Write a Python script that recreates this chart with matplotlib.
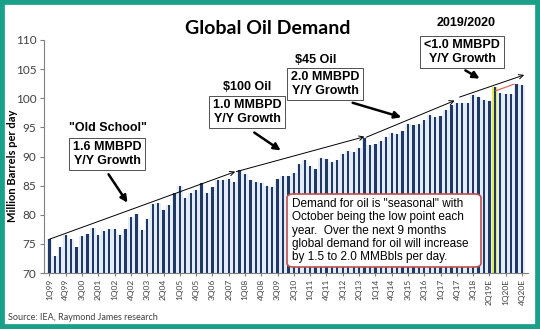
import matplotlib
matplotlib.use("Agg")
import matplotlib.pyplot as plt
from matplotlib.patches import Rectangle, FancyBboxPatch, FancyArrowPatch
import numpy as np

# quarterly global oil demand, million barrels per day (1Q99 .. 4Q20E)
demand = [
    75.8, 73.0, 74.4, 76.5,   # 1999
    75.9, 74.4, 76.3, 76.7,   # 2000
    77.8, 76.6, 77.2, 77.5,   # 2001
    77.5, 76.6, 77.6, 79.6,   # 2002
    80.2, 77.3, 79.3, 81.9,   # 2003
    82.0, 80.8, 81.7, 83.8,   # 2004
    84.9, 82.8, 83.7, 84.2,   # 2005
    85.5, 83.8, 84.8, 85.9,   # 2006
    85.9, 86.2, 85.6, 87.6,   # 2007
    87.0, 86.0, 85.6, 85.5,   # 2008
    84.9, 84.8, 86.1, 86.6,   # 2009
    86.6, 87.2, 88.7, 89.4,   # 2010
    88.3, 87.8, 89.8, 89.6,   # 2011
    89.1, 89.4, 90.5, 90.9,   # 2012
    90.8, 91.4, 93.1, 92.0,   # 2013
    92.1, 92.6, 93.4, 94.0,   # 2014
    93.8, 94.3, 95.6, 95.4,   # 2015
    95.6, 96.2, 97.2, 96.8,   # 2016
    97.0, 98.0, 98.8, 99.1,   # 2017
    99.2, 99.2, 100.6, 100.2, # 2018
    99.7, 99.6, 102.0, 100.9, # 2019
    100.8, 100.8, 102.4, 102.3,  # 2020
]
years = list(range(1999, 2021))
quarters = [f"{q}Q{y % 100:02d}" + ("E" if (y, q) >= (2019, 2) else "")
            for y in years for q in range(1, 5)]
tick_labels = ["1Q99", "4Q99", "3Q00", "2Q01", "1Q02", "4Q02", "3Q03", "2Q04",
               "1Q05", "4Q05", "3Q06", "2Q07", "1Q08", "4Q08", "3Q09", "2Q10",
               "1Q11", "4Q11", "3Q12", "2Q13", "1Q14", "4Q14", "3Q15", "2Q16",
               "1Q17", "4Q17", "3Q18", "2Q19E", "1Q20E", "4Q20E"]
highlight = "3Q19E"

# trend arrows: (quarter index, value) start -> end
trends = [
    ((0, 75.8), (34.2, 87.4)),
    ((34.4, 87.4), (58.0, 93.4)),
    ((58.3, 93.3), (74.6, 99.6)),
    ((75.5, 100.2), (87.4, 104.0)),
]

NAVY = "#1f3864"
PALE = "#e3ecf6"
W, H = 540, 329

fig = plt.figure(figsize=(W / 100, H / 100), dpi=100)
ax = fig.add_axes([43.5 / W, 1 - 273 / H, (528 - 43.5) / W, (273 - 40) / H])


def fpos(x, y):
    # pixel position from the top-left corner -> figure fraction
    return (x / W, 1 - y / H)


x = np.arange(len(demand))
hi = quarters.index(highlight)
ax.bar(x, demand, width=1.0, color=PALE, zorder=1)
ax.bar([hi], [demand[hi]], width=0.95, color="#e2ec48", zorder=2)
ax.bar(x, demand, width=0.42, color=NAVY, zorder=3)

ax.set_ylim(70, 110)
ax.set_yticks(range(70, 111, 5))
ax.set_xlim(-1.1, len(demand) + 0.1)
ax.set_xticks([quarters.index(t) for t in tick_labels])
ax.set_xticklabels(tick_labels, rotation=90, fontsize=6, family="Lato", color="#404040")
for lab in ax.get_yticklabels():
    lab.set_family("Lato")
ax.tick_params(axis="y", labelsize=8.5, length=3, color="#808080", labelcolor="#404040", pad=2)
ax.tick_params(axis="x", length=2, color="#808080", pad=2)
for s in ["top", "right"]:
    ax.spines[s].set_visible(False)
for s in ["left", "bottom"]:
    ax.spines[s].set_color("#808080")
    ax.spines[s].set_linewidth(0.8)

# axis title placed by hand so it sits clear of the frame
fig.text(*fpos(13, 166), "Million Barrels per day", rotation=90, ha="center", va="center",
         fontsize=8, family="Lato", fontweight="bold")

# trend lines
for (x0, y0), (x1, y1) in trends:
    ax.annotate("", xy=(x1, y1), xytext=(x0, y0),
                arrowprops=dict(arrowstyle="->", lw=0.7, color="black",
                                mutation_scale=8, shrinkA=0, shrinkB=0), zorder=5)
ax.plot([82.2, 85.5], [101.3, 102.4], color="#e06666", lw=0.9, zorder=5)

fig.text(*fpos(268, 28), "Global Oil Demand", ha="center", va="center",
         fontsize=14, fontweight="bold", family="Lato")

box = dict(boxstyle="square,pad=0.3", fc="white", ec="#505050", lw=0.7)
tkw = dict(ha="center", va="center", fontsize=9, fontweight="bold",
           family="Liberation Sans")

notes = [
    ('"Old School"', (108, 128), "1.6 MMBPD\nY/Y Growth", (107, 154), (107, 172), (129, 205)),
    ("$100 Oil", (247, 87), "1.0 MMBPD\nY/Y Growth", (247, 112), (252, 131), (283, 152)),
    ("$45 Oil", (316, 60), "2.0 MMBPD\nY/Y Growth", (325, 84), (350, 102), (404, 118)),
    ("2019/2020", (466, 23), "<1.0 MMBPD\nY/Y Growth", (462, 52), (463, 69), (482, 80)),
]
for head, hpos, body, bpos, a0, a1 in notes:
    fig.text(*fpos(*hpos), head, **tkw)
    fig.text(*fpos(*bpos), body, bbox=box, linespacing=1.15, **tkw)
    fig.add_artist(FancyArrowPatch(fpos(*a0), fpos(*a1), transform=fig.transFigure,
                                   arrowstyle="-|>", mutation_scale=10, lw=1.8,
                                   color="black"))

# seasonal callout
x0, y0 = fpos(287, 267)
x1, y1 = fpos(481, 194)
fig.add_artist(FancyBboxPatch((x0, y0), x1 - x0, y1 - y0, transform=fig.transFigure,
                              boxstyle="round,pad=0,rounding_size=0.012",
                              fc="white", ec="#c0504d", lw=1.2, zorder=6))
fig.text(*fpos(292, 198),
         'Demand for oil is "seasonal" with\nOctober being the low point each\n'
         'year.  Over the next 9 months\nglobal demand for oil will increase\n'
         'by 1.5 to 2.0 MMBbls per day.',
         ha="left", va="top", fontsize=8.5, family="Liberation Sans",
         linespacing=1.15, zorder=7)

fig.text(*fpos(8, 317), "Source: IEA, Raymond James research", ha="left", va="center",
         fontsize=6.5, family="Lato", color="#404040")

# teal frame around the whole chart
fig.add_artist(Rectangle((0, 0), 1, 1, transform=fig.transFigure, fill=False,
                         ec="#1a9f89", lw=7))

fig.savefig("out.png", dpi=100)
